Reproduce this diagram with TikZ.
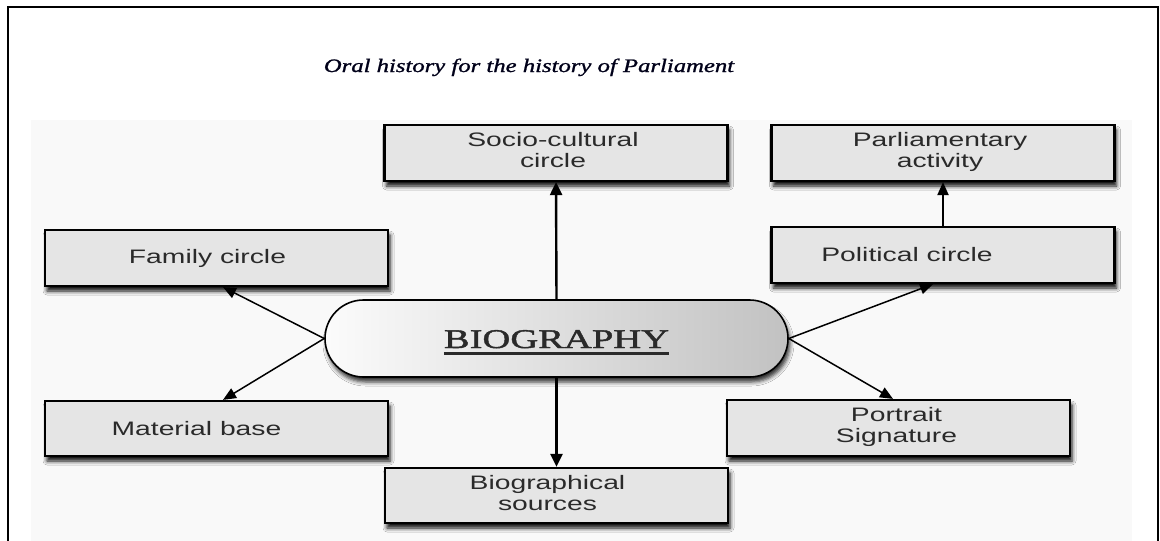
\documentclass[tikz,border=0pt]{standalone}
\usepackage{fontspec}
\usetikzlibrary{shapes.misc,arrows.meta,shadows.blur}
\newfontfamily\boxfont[FakeStretch=1.45]{Liberation Sans}
\newfontfamily\bioserif[FakeStretch=1.43,FakeBold=1.6]{Liberation Serif}
\newfontfamily\titleserif[FakeStretch=1.3,FakeBold=1.2]{Liberation Serif}
\definecolor{boxgray}{HTML}{E5E5E5}
\definecolor{bggray}{HTML}{F9F9F9}
\definecolor{txtgray}{HTML}{2A2A2A}
\newcommand\thickul[1]{\setbox0\hbox{#1}\rlap{\rule[-7pt]{\wd0}{3pt}}\box0}
\newcommand\twol[2]{\begin{tabular}{@{}c@{}}#1\\#2\end{tabular}}
\newcommand\padr[1]{\hspace{#1}\mbox{}}
\tikzset{
  boxnode/.style={draw=black, line width=2.2pt, fill=boxgray, minimum width=343pt,
    minimum height=56pt, inner sep=0pt, text=txtgray,
    font=\boxfont\fontsize{19.5}{21}\selectfont,
    blur shadow={shadow xshift=2pt, shadow yshift=-5pt, shadow blur radius=4pt, shadow opacity=95}},
  arr/.style={line width=1.5pt, -{Triangle[length=13pt,width=11pt]}},
  arrthick/.style={line width=2.4pt, -{Triangle[length=13pt,width=12pt]}}
}
\begin{document}
\begin{tikzpicture}[x=1pt,y=-1pt]
\useasboundingbox (0,0) rectangle (1160,541);
\fill[white] (0,0) rectangle (1160,541);
\fill[bggray] (31,120) rectangle (1132,541);
\draw[line width=2pt] (8,541) -- (8,7) -- (1158,7) -- (1158,541);

\node[font=\titleserif\itshape\fontsize{19}{22}\selectfont, anchor=base, text=black!90!blue] (title) at (529,72) {Oral history for the history of Parliament};

\node[boxnode] (socio) at (556,153) {\twol{Socio-cultural}{circle}\padr{6pt}};
\node[boxnode] (parl) at (943,153) {\twol{Parliamentary}{activity}\padr{6pt}};
\node[boxnode] (pol) at (943,255) {Political circle\padr{72pt}};
\node[boxnode] (fam) at (216.5,258) {Family circle\padr{18pt}};
\node[boxnode, minimum height=55pt] (mat) at (216.5,428.5) {Material base\padr{40pt}};
\node[boxnode, minimum height=55pt] (bio) at (556.5,495.5) {\twol{Biographical}{sources}\padr{18pt}};
\node[boxnode] (port) at (898.5,428) {\twol{Portrait}{Signature}\padr{4pt}};

\node[rounded rectangle, draw=black, line width=1.6pt, minimum width=463pt, minimum height=77pt,
  inner sep=0pt, left color=gray!3, right color=gray!48, text=txtgray,
  text height=19pt, text depth=0pt,
  font=\bioserif\fontsize{27}{30}\selectfont,
  blur shadow={shadow xshift=2pt, shadow yshift=-5pt, shadow blur radius=4pt, shadow opacity=80}]
  (ell) at (556.5,338.5) {\thickul{BIOGRAPHY}};

\draw[arrthick] (ell.north) -- (socio.south);
\draw[arrthick] (ell.south) -- (bio.north);
\draw[arr, line width=2pt] (pol.north) -- (parl.south);
\draw[arr] (ell.west) -- ([xshift=6.5pt]fam.south);
\draw[arr] (ell.west) -- ([xshift=6.5pt]mat.north);
\draw[arr] (ell.east) -- ([xshift=-10pt]pol.south);
\draw[arr] (ell.east) -- ([xshift=-5.5pt]port.north);
\end{tikzpicture}
\end{document}
